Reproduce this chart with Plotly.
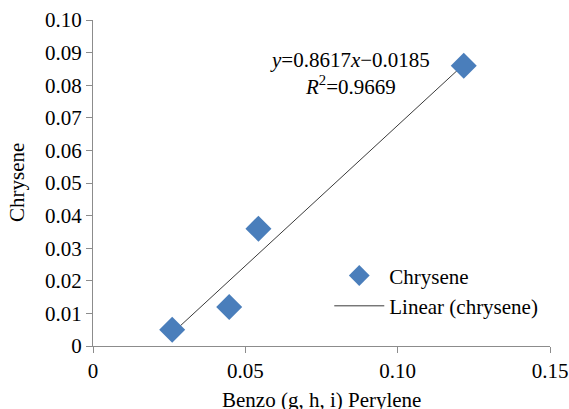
import numpy as np
import plotly.graph_objects as go

benzo = [0.026, 0.0447, 0.0543, 0.1217]
chrysene = [0.005, 0.012, 0.036, 0.086]
slope = 0.8617
intercept = -0.0185
r2 = 0.9669

FONT = "Liberation Serif, Times New Roman, serif"
FS = 21

x_fit = np.array([min(benzo), max(benzo)])
y_fit = slope * x_fit + intercept

fig = go.Figure()
fig.add_trace(go.Scatter(
    x=x_fit, y=y_fit, mode="lines", name="Linear (chrysene)", legendgroup="fit",
    line=dict(color="#3a3a3a", width=1),
))
fig.add_trace(go.Scatter(
    x=benzo, y=chrysene, mode="markers", name="Chrysene", legendgroup="pts",
    marker=dict(symbol="diamond", size=20, color="#4A7EBB"),
))

fig.add_annotation(
    x=0.0845, y=0.0836, xref="x", yref="y", showarrow=False,
    text="<i>y</i>=%.4f<i>x</i>\u2212%.4f<br><i>R</i><sup>2</sup>=%.4f" % (slope, -intercept, r2),
    font=dict(family=FONT, size=FS, color="black"), align="center",
)

# axis titles placed as annotations so they sit where the original has them
fig.add_annotation(
    x=0.5, y=0, xref="paper", yref="paper", yanchor="middle", yshift=-54,
    text="Benzo (g, h, i) Perylene", showarrow=False,
    font=dict(family=FONT, size=FS, color="black"),
)
fig.add_annotation(
    x=0, y=0.5, xref="paper", yref="paper", xanchor="center", xshift=-76,
    text="Chrysene", textangle=-90, showarrow=False,
    font=dict(family=FONT, size=FS, color="black"),
)

axis_common = dict(
    showgrid=False, zeroline=False, showline=True, linecolor="#8c8c8c", linewidth=1,
    ticks="outside", ticklen=6, tickcolor="#8c8c8c", automargin=False,
    ticklabeloverflow="allow",
    tickfont=dict(family=FONT, size=FS, color="black"),
)

fig.update_xaxes(
    range=[0, 0.15], tickvals=[0, 0.05, 0.10, 0.15],
    ticktext=["0", "0.05", "0.10", "0.15"],
    **axis_common,
)
fig.update_yaxes(
    range=[0, 0.10], tickvals=[i / 100 for i in range(11)],
    ticktext=["0"] + ["%.2f" % (i / 100) for i in range(1, 11)],
    **axis_common,
)

fig.update_layout(
    width=569, height=409,
    margin=dict(l=93, r=19, t=20, b=63),
    plot_bgcolor="white", paper_bgcolor="white",
    font=dict(family=FONT, size=FS, color="black"),
    legend=dict(x=0.517, y=0.278, xanchor="left", yanchor="top", traceorder="reversed",
                bgcolor="rgba(0,0,0,0)", font=dict(family=FONT, size=FS),
                itemwidth=50, tracegroupgap=5),
)

# drop the default page margin so the figure fills the window exactly
fig.write_html("out.html", config={"displayModeBar": False},
               post_script="document.body.style.margin='0';")
